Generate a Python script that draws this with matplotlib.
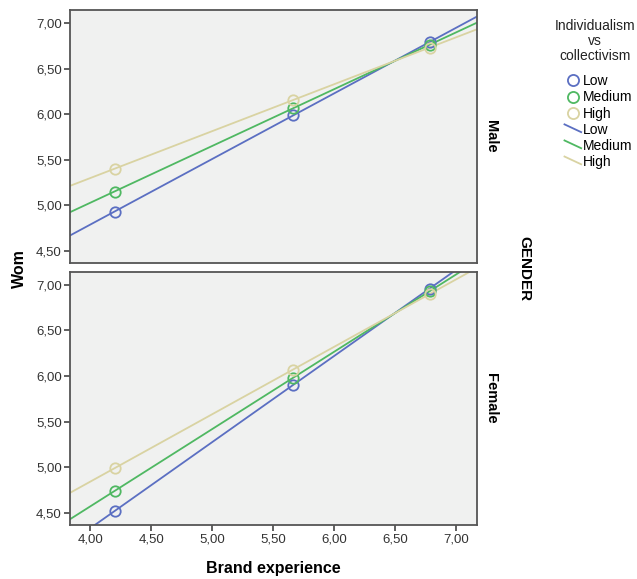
import numpy as np
import matplotlib
matplotlib.use("Agg")
import matplotlib.pyplot as plt
from matplotlib.lines import Line2D
from matplotlib.legend_handler import HandlerLine2D
from matplotlib.ticker import FuncFormatter

plt.rcParams['font.family'] = ['Liberation Sans', 'DejaVu Sans']

# brand experience levels where the predicted values are shown
brand_x = [4.20, 5.66, 6.78]

levels = ['Low', 'Medium', 'High']
colors = ['#5b6fc2', '#4fb862', '#d9d3a2']

# predicted Wom, per gender, per individualism level
male_low = [4.93, 5.99, 6.79]
male_medium = [5.15, 6.07, 6.76]
male_high = [5.40, 6.16, 6.73]

female_low = [4.52, 5.90, 6.96]
female_medium = [4.74, 5.98, 6.93]
female_high = [4.99, 6.07, 6.90]

panels = [('Male', [male_low, male_medium, male_high]),
          ('Female', [female_low, female_medium, female_high])]

ticks = [4.0, 4.5, 5.0, 5.5, 6.0, 6.5, 7.0]
xlim = (3.833, 7.17)
ylim = (4.365, 7.145)


class DiagHandler(HandlerLine2D):
    # SPSS draws the fit line symbol as a short slanted stroke
    def create_artists(self, legend, orig_handle, xdescent, ydescent,
                       width, height, fontsize, trans):
        x0 = -xdescent
        x1 = width - xdescent
        y0 = height * 0.95 - ydescent
        y1 = height * 0.15 - ydescent
        ln = Line2D([x0, x1], [y0, y1])
        self.update_prop(ln, orig_handle, legend)
        ln.set_marker('')
        ln.set_transform(trans)
        return [ln]


comma = FuncFormatter(lambda v, p: f"{v:.2f}".replace('.', ','))

fig = plt.figure(figsize=(6.37, 5.79), dpi=100)
ax_top = fig.add_axes([0.110, 0.5458, 0.639, 0.4369])
ax_bot = fig.add_axes([0.110, 0.0933, 0.639, 0.4374])

for ax, (name, series) in zip([ax_top, ax_bot], panels):
    ax.set_facecolor('#f0f1f0')
    xx = np.array([3.7, 7.3])
    for vals, c in zip(series, colors):
        k, b = np.polyfit(brand_x, vals, 1)
        ax.plot(xx, k * xx + b, color=c, lw=1.3, zorder=2)
        ax.plot(brand_x, vals, 'o', mfc='none', mec=c, ms=7.5, mew=1.3, zorder=3)
    ax.set_xlim(*xlim)
    ax.set_ylim(*ylim)
    ax.set_yticks(ticks[1:])
    ax.yaxis.set_major_formatter(comma)
    ax.xaxis.set_major_formatter(comma)
    for s in ax.spines.values():
        s.set_color('#555555')
        s.set_linewidth(1.3)
    ax.tick_params(direction='out', length=4, width=1.2, color='#444444',
                   labelsize=9.5, labelcolor='#333333', pad=2)
    ax.text(1.035, 0.5, name, transform=ax.transAxes, rotation=270,
            ha='center', va='center', fontsize=10.5, fontweight='bold')

ax_top.set_xticks(ticks)
ax_top.tick_params(axis='x', bottom=False, labelbottom=False)
ax_bot.set_xticks(ticks)
ax_bot.set_xlabel('Brand experience', fontsize=11.5, fontweight='bold', labelpad=11)

fig.text(0.031, 0.537, 'Wom', rotation=90, ha='center', va='center',
         fontsize=11.5, fontweight='bold')
fig.text(0.823, 0.537, 'GENDER', rotation=270, ha='center', va='center',
         fontsize=11, fontweight='bold')

# legend title as separate text so it can sit where SPSS puts it
fig.text(0.934, 0.968, 'Individualism\nvs\ncollectivism', ha='center', va='top',
         fontsize=10, linespacing=1.12, color='#222222')

handles = [Line2D([], [], ls='none', marker='o', mfc='none', mec=c, ms=8, mew=1.3)
           for c in colors]
handles += [Line2D([], [], color=c, lw=1.3) for c in colors]
labels = levels + levels
hmap = {h: DiagHandler() for h in handles[3:]}
leg = fig.legend(handles, labels, handler_map=hmap, loc='upper left',
                 bbox_to_anchor=(0.884, 0.874), frameon=False, fontsize=10,
                 handlelength=1.2, handletextpad=0.15, labelspacing=0.15,
                 borderpad=0.1, borderaxespad=0)

fig.savefig('out.png', dpi=100)
